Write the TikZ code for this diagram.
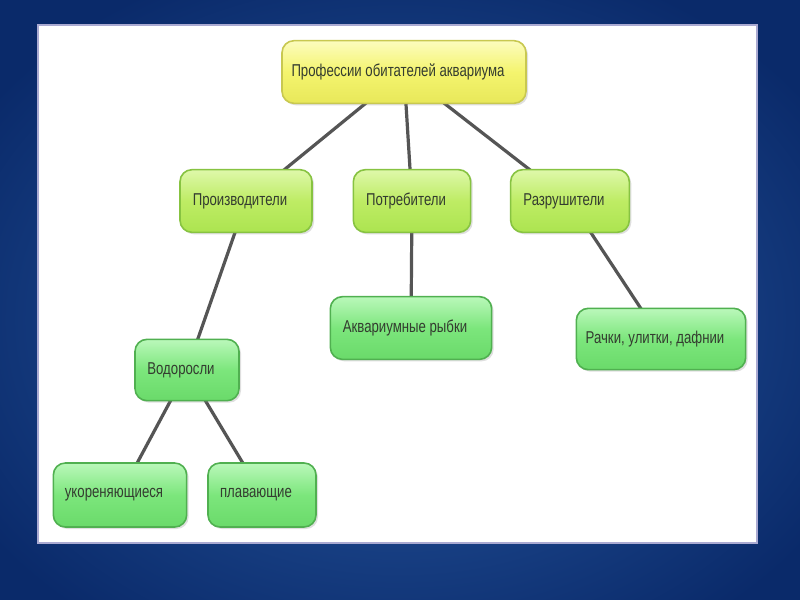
\documentclass[tikz,border=0pt]{standalone}
\usepackage{fontspec}
\setmainfont{Liberation Sans}
\usetikzlibrary{shadows,backgrounds}
\pgfdeclarelayer{lines}
\pgfsetlayers{background,lines,main}
\definecolor{bgin}{RGB}{42,92,165}
\definecolor{bgout}{RGB}{10,42,106}
\definecolor{ytop}{RGB}{252,252,190}
\definecolor{ymid}{RGB}{244,244,110}
\definecolor{ybot}{RGB}{232,232,90}
\definecolor{ydraw}{RGB}{200,200,80}
\definecolor{ltop}{RGB}{222,248,170}
\definecolor{lmid}{RGB}{190,236,100}
\definecolor{lbot}{RGB}{172,228,80}
\definecolor{ldraw}{RGB}{135,195,65}
\definecolor{gtop}{RGB}{186,248,186}
\definecolor{gmid}{RGB}{124,230,124}
\definecolor{gbot}{RGB}{106,218,106}
\definecolor{gdraw}{RGB}{80,176,80}
\definecolor{txt}{RGB}{52,60,48}
\definecolor{linec}{RGB}{85,85,85}
\newcommand{\boxtext}[1]{\scalebox{1}[1.3]{#1}\kern 9pt}
\tikzset{
  box/.style={rounded corners=9pt, line width=1.2pt, text=txt,
    font=\fontsize{9.9}{11}\selectfont, inner sep=0pt, align=center,
    drop shadow={opacity=0.25, shadow xshift=1.5pt, shadow yshift=-1.5pt}},
  ybox/.style={box, draw=ydraw, top color=ytop, bottom color=ybot, middle color=ymid},
  lbox/.style={box, draw=ldraw, top color=ltop, bottom color=lbot, middle color=lmid},
  gbox/.style={box, draw=gdraw, top color=gtop, bottom color=gbot, middle color=gmid},
  conn/.style={draw=linec, line width=2.4pt}
}
\begin{document}
\begin{tikzpicture}[x=0.75pt,y=-0.75pt]
\useasboundingbox (0,0) rectangle (800,600);
\begin{pgfonlayer}{background}
\shade[inner color=bgin, outer color=bgout] (-100,-60) rectangle (900,700);
\fill[white] (38,25) rectangle (757,543);
\draw[color={rgb,255:red,170;green,170;blue,210}, line width=0.8pt] (38,25) rectangle (757,543);
\end{pgfonlayer}

\node[ybox, minimum width=183pt, minimum height=47pt] (top) at (404,72) {\boxtext{Профессии обитателей аквариума}};

\node[lbox, minimum width=99pt, minimum height=47pt] (prod) at (246,201) {\boxtext{Производители}};
\node[lbox, minimum width=88pt, minimum height=47pt] (potr) at (412,201) {\boxtext{Потребители}};
\node[lbox, minimum width=89pt, minimum height=47pt] (razr) at (570,201) {\boxtext{Разрушители}};

\node[gbox, minimum width=78pt, minimum height=46pt] (vod) at (187,370) {\boxtext{Водоросли}};
\node[gbox, minimum width=121pt, minimum height=47pt] (ryb) at (411,328) {\boxtext{Аквариумные рыбки}};
\node[gbox, minimum width=127pt, minimum height=46pt] (rach) at (661,339) {\boxtext{Рачки, улитки, дафнии}};

\node[gbox, minimum width=100pt, minimum height=48pt] (ukor) at (120,495) {\boxtext{укореняющиеся}};
\node[gbox, minimum width=81pt, minimum height=48pt] (plav) at (262,495) {\boxtext{плавающие}};

\begin{pgfonlayer}{lines}
\draw[conn] (top.center) -- (prod.center);
\draw[conn] (top.center) -- (potr.center);
\draw[conn] (top.center) -- (razr.center);
\draw[conn] (prod.center) -- (vod.center);
\draw[conn] (potr.center) -- (ryb.center);
\draw[conn] (razr.center) -- (rach.center);
\draw[conn] (vod.center) -- (ukor.center);
\draw[conn] (vod.center) -- (plav.center);
\end{pgfonlayer}
\end{tikzpicture}
\end{document}
